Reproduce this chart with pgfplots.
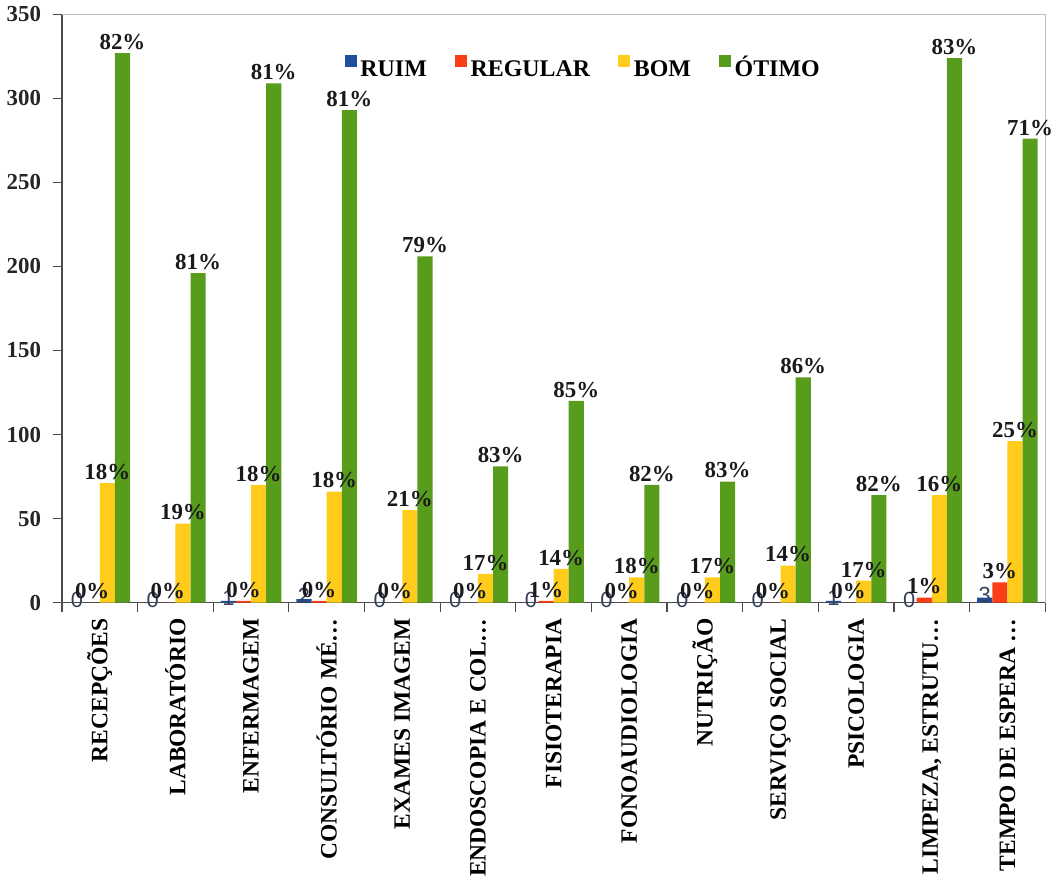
\documentclass[border=0pt]{standalone}
\usepackage{fontspec}
\setmainfont{Liberation Serif}
\newfontfamily\lblsans{Liberation Sans}
\usepackage{pgfplots}
\pgfplotsset{compat=1.18}
\usepackage{pgfplotstable}

\definecolor{ruim}{RGB}{31,78,156}
\definecolor{regular}{RGB}{250,62,22}
\definecolor{bom}{RGB}{255,204,28}
\definecolor{otimo}{RGB}{88,156,28}
\definecolor{lbl}{RGB}{25,25,30}
\definecolor{lblruim}{RGB}{55,65,90}

% contagens por setor e percentuais mostrados nas barras
\pgfplotstableread{
x ruim regular bom otimo preg pbom potimo
0  0  0  71 327 0 18 82
1  0  0  47 196 0 19 81
2  1  1  70 309 0 18 81
3  2  1  66 293 0 18 81
4  0  0  55 206 0 21 79
5  0  0  17  81 0 17 83
6  0  1  20 120 1 14 85
7  0  0  15  70 0 18 82
8  0  0  15  72 0 17 83
9  0  0  22 134 0 14 86
10 1  0  13  64 0 17 82
11 0  3  64 324 1 16 83
12 3 12  96 276 3 25 71
}\dados

\begin{document}
\begin{tikzpicture}
\begin{axis}[
  width=494pt, height=295.5pt, scale only axis,
  ybar=0pt, bar width=0.2,
  xmin=-0.5, xmax=12.5, ymin=0, ymax=350,
  ytick={0,50,...,350},
  xtick={-0.5,0.5,...,12.5}, xticklabels={},
  extra x ticks={0,1,2,3,4,5,6,7,8,9,10,11,12},
  extra x tick labels={{RECEPÇÕES},{LABORATÓRIO},{ENFERMAGEM},{CONSULTÓRIO MÉ…},{EXAMES IMAGEM},{ENDOSCOPIA E COL…},{FISIOTERAPIA},{FONOAUDIOLOGIA},{NUTRIÇÃO},{SERVIÇO SOCIAL},{PSICOLOGIA},{LIMPEZA, ESTRUTU…},{TEMPO DE ESPERA …}},
  extra x tick style={tick style={draw=none}},
  x tick label style={rotate=90, anchor=east, font=\bfseries\fontsize{11.8}{14}\selectfont, text=black},
  y tick label style={font=\bfseries\fontsize{11.5}{13}\selectfont, text=black!85, xshift=-2.5pt},
  /pgf/number format/assume math mode=true,
  tick align=outside, major tick length=4.5pt,
  tick style={black!70, line width=0.6pt},
  axis x line*=bottom, axis y line*=left,
  axis line style={black!70, line width=0.6pt},
  legend style={at={(0.531,0.91)}, anchor=center, draw=none, fill=none,
    legend columns=-1, font=\bfseries\fontsize{12}{14}\selectfont,
    /tikz/every even column/.append style={column sep=12pt}},
  legend image code/.code={\draw[#1,draw=none] (0pt,0pt) rectangle (0.6em,0.62em);},
  clip=false,
]
\draw[black!25] (rel axis cs:0,1) -- (rel axis cs:1,1) -- (rel axis cs:1,0);

\addplot[fill=ruim, draw=none, bar shift=-0.3] table[x=x, y=ruim] {\dados};
\addplot[fill=regular, draw=none, bar shift=-0.1] table[x=x, y=regular] {\dados};
\addplot[fill=bom, draw=none, bar shift=0.1] table[x=x, y=bom] {\dados};
\addplot[fill=otimo, draw=none, bar shift=0.3] table[x=x, y=otimo] {\dados};
\legend{\vphantom{Ó}RUIM, \vphantom{Ó}REGULAR, \vphantom{Ó}BOM, ÓTIMO}

% rótulos por cima de todas as barras
\addplot[draw=none, fill=none, bar shift=-0.3, forget plot,
  point meta=explicit symbolic,
  nodes near coords={\pgfplotspointmeta},
  every node near coord/.append style={anchor=center, yshift=1.5pt,
    font=\lblsans\fontsize{11}{12}\selectfont, text=lblruim}]
  table[x=x, y=ruim, meta=ruim] {\dados};
\addplot[draw=none, fill=none, bar shift=-0.1, forget plot,
  point meta=explicit symbolic,
  nodes near coords={\pgfplotspointmeta\%},
  every node near coord/.append style={font=\bfseries\fontsize{11.5}{13}\selectfont, text=lbl, inner sep=1.5pt}]
  table[x=x, y=regular, meta=preg] {\dados};
\addplot[draw=none, fill=none, bar shift=0.1, forget plot,
  point meta=explicit symbolic,
  nodes near coords={\pgfplotspointmeta\%},
  every node near coord/.append style={font=\bfseries\fontsize{11.5}{13}\selectfont, text=lbl, inner sep=1.5pt}]
  table[x=x, y=bom, meta=pbom] {\dados};
\addplot[draw=none, fill=none, bar shift=0.3, forget plot,
  point meta=explicit symbolic,
  nodes near coords={\pgfplotspointmeta\%},
  every node near coord/.append style={font=\bfseries\fontsize{11.5}{13}\selectfont, text=lbl, inner sep=1.5pt}]
  table[x=x, y=otimo, meta=potimo] {\dados};
\end{axis}
\end{tikzpicture}
\end{document}
